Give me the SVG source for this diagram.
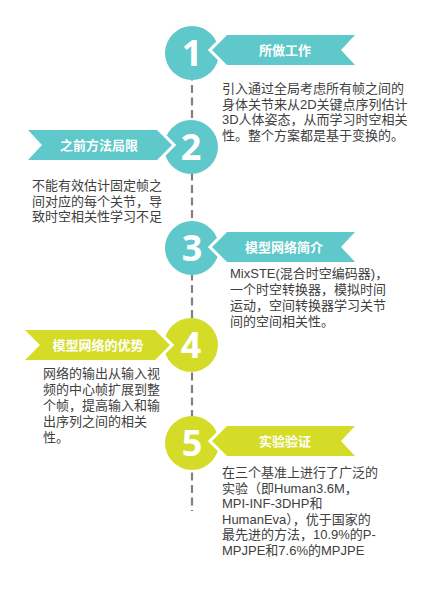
<svg xmlns="http://www.w3.org/2000/svg" width="441" height="591" viewBox="0 0 441 591">
<style>
.teal{fill:#5fc8ca}
.lime{fill:#d5dc28}
.rib{stroke:#ffffff;stroke-width:6;paint-order:stroke;stroke-linejoin:miter}
.num{font-family:"Open Sans","DejaVu Sans",sans-serif;font-weight:bold;font-size:36px;fill:#ffffff;text-anchor:middle}
.lab{font-family:"Noto Sans CJK SC",sans-serif;font-weight:bold;font-size:13px;fill:#ffffff;text-anchor:middle}
.body{font-family:"Liberation Sans","Noto Sans CJK SC",sans-serif;font-size:13px;fill:#404040}
</style>
<rect width="441" height="591" fill="#ffffff"/>
<g id="connectors">
<line x1="192" y1="60" x2="192" y2="511" stroke="#808080" stroke-width="2.2" stroke-dasharray="8 4.5"/>
</g>
<g id="node1">
<circle class="teal" cx="192" cy="53" r="27"/>
<polygon class="teal rib" points="212,50 227,35 355,35 341,50 355,65 227,65"/>
<text class="num" x="192" y="66">1</text>
<text class="lab" x="285" y="55">所做工作</text>
<text class="body" x="222" y="93">引入通过全局考虑所有帧之间的</text>
<text class="body" x="222" y="108.5">身体关节来从2D关键点序列估计</text>
<text class="body" x="222" y="124">3D人体姿态，从而学习时空相关</text>
<text class="body" x="222" y="139.5">性。整个方案都是基于变换的。</text>
</g>
<g id="node2">
<circle class="teal" cx="191" cy="147" r="27"/>
<polygon class="teal rib" points="28,130 157,130 172,145 157,160 28,160 42,145"/>
<text class="num" x="191" y="160">2</text>
<text class="lab" x="99" y="150">之前方法局限</text>
<text class="body" x="32" y="190">不能有效估计固定帧之</text>
<text class="body" x="32" y="205.5">间对应的每个关节，导</text>
<text class="body" x="32" y="221">致时空相关性学习不足</text>
</g>
<g id="node3">
<circle class="teal" cx="192" cy="248" r="27"/>
<polygon class="teal rib" points="212,247 227,232 355,232 341,247 355,262 227,262"/>
<text class="num" x="192" y="261">3</text>
<text class="lab" x="284" y="252">模型网络简介</text>
<text class="body" x="230" y="278">MixSTE(混合时空编码器)，</text>
<text class="body" x="230" y="294">一个时空转换器，模拟时间</text>
<text class="body" x="230" y="310">运动，空间转换器学习关节</text>
<text class="body" x="230" y="326">间的空间相关性。</text>
</g>
<g id="node4">
<circle class="lime" cx="191" cy="345" r="27"/>
<polygon class="lime rib" points="25,330 155,330 170,345 155,360 25,360 40,345"/>
<text class="num" x="191" y="358">4</text>
<text class="lab" x="98" y="350">模型网络的优势</text>
<text class="body" x="43" y="378">网络的输出从输入视</text>
<text class="body" x="43" y="394">频的中心帧扩展到整</text>
<text class="body" x="43" y="410">个帧，提高输入和输</text>
<text class="body" x="43" y="426">出序列之间的相关</text>
<text class="body" x="43" y="442">性。</text>
</g>
<g id="node5">
<circle class="lime" cx="192" cy="443" r="27"/>
<polygon class="lime rib" points="212,441 227,426 355,426 341,441 355,456 227,456"/>
<text class="num" x="192" y="456">5</text>
<text class="lab" x="285" y="446">实验验证</text>
<text class="body" x="222" y="477">在三个基准上进行了广泛的</text>
<text class="body" x="222" y="492.5">实验（即Human3.6M，</text>
<text class="body" x="222" y="508">MPI-INF-3DHP和</text>
<text class="body" x="222" y="523.5">HumanEva），优于国家的</text>
<text class="body" x="222" y="539">最先进的方法，10.9%的P-</text>
<text class="body" x="222" y="554.5">MPJPE和7.6%的MPJPE</text>
</g>
</svg>
